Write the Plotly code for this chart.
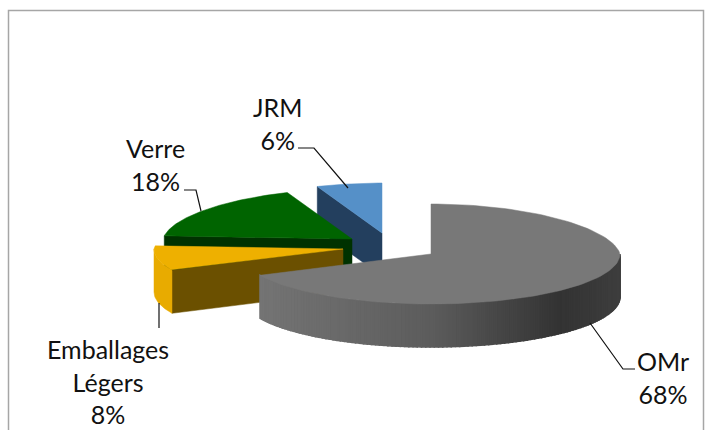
import math
import plotly.graph_objects as go

labels = ["OMr", "Emballages<br>Légers", "Verre", "JRM"]
values = [68, 8, 18, 6]
top_colors = ["#787878", "#eeb000", "#006400", "#5590c8"]
cut_colors = ["#6a6a6a", "#6b5000", "#003200", "#233f5e"]
wall_colors = ["#555555", "#e8ab00", "#004a00", "#2f5578"]

# Geometry of the tilted pie (pixels in the 714x430 frame)
RX, RY, DEPTH = 189.0, 50.0, 43.0
APEX = {"OMr": (431, 254), "Emballages<br>Légers": (343, 249), "Verre": (352, 239), "JRM": (382, 233)}
PERSP = 0.0015


def rim(cx, cy, deg):
    a = math.radians(deg)
    dy = -RY * math.cos(a)
    k = 1 + PERSP * min(dy, 0)
    return cx + RX * math.sin(a) * k, cy + dy


def arc(cx, cy, a0, a1, n=60):
    pts = [rim(cx, cy, a0 + (a1 - a0) * i / n) for i in range(n + 1)]
    return [p[0] for p in pts], [p[1] for p in pts]


def poly(fig, xs, ys, color, lw=0.5):
    fig.add_trace(go.Scatter(
        x=list(xs) + [xs[0]], y=list(ys) + [ys[0]], mode="lines", fill="toself",
        fillcolor=color, line=dict(color=color, width=lw), hoverinfo="skip", showlegend=False))


def omr_wall_color(x):
    stops = [(261, 0x74), (431, 0x5c), (560, 0x33), (620, 0x3e)]
    for (x0, v0), (x1, v1) in zip(stops, stops[1:]):
        if x <= x1:
            v = v0 + (v1 - v0) * (x - x0) / (x1 - x0)
            v = int(round(v))
            return f"rgb({v},{v},{v})"
    return "rgb(62,62,62)"


total = sum(values)
spans = []
start = 0.0
for v in values:
    spans.append((start, start + 360.0 * v / total))
    start += 360.0 * v / total

fig = go.Figure()
order = [3, 2, 1, 0]  # back to front
for i in order:
    name = labels[i]
    cx, cy = APEX[name]
    a0, a1 = spans[i]
    if i == 0:
        # outer wall: vertical shaded strips, only the front-facing part of the rim
        steps = 120
        lo, hi = 90.0, a1
        for s in range(steps):
            b0 = lo + (hi - lo) * s / steps
            b1 = lo + (hi - lo) * (s + 1) / steps
            x0, y0 = rim(cx, cy, b0)
            x1, y1 = rim(cx, cy, b1)
            poly(fig, [x0, x1, x1, x0], [y0, y1, y1 + DEPTH, y0 + DEPTH], omr_wall_color((x0 + x1) / 2), lw=1.5)
    else:
        # cut face at the clockwise start of the slice, facing the viewer
        ox, oy = rim(cx, cy, a0)
        poly(fig, [cx, ox, ox, cx], [cy, oy, oy + DEPTH, cy + DEPTH], cut_colors[i])
        # outer wall visible on the left side of the slice
        if a0 < 270:
            ax, ay = arc(cx, cy, a0, min(a1, 270.0), 20)
            poly(fig, ax + [x for x in reversed(ax)], ay + [y + DEPTH for y in reversed(ay)], wall_colors[i])
    ax, ay = arc(cx, cy, a0, a1, 120)
    poly(fig, [cx] + ax, [cy] + ay, top_colors[i])

# Data labels
label_pos = {
    "OMr": (663, 377), "Emballages<br>Légers": (108, 381), "Verre": (155, 164), "JRM": (277, 123),
}
for name, v in zip(labels, values):
    x, y = label_pos[name]
    fig.add_annotation(x=x, y=y, text=f"{name}<br>{v}%", showarrow=False, xanchor="center", yanchor="middle",
                       font=dict(family="Lato, Carlito, Open Sans, sans-serif", size=25, color="#111111"),
                       align="center")

# Leader lines
leaders = [
    [(298, 148), (314, 148), (348, 188)],
    [(184, 190), (196, 190), (201, 211)],
    [(159, 303), (159, 328)],
    [(590, 323), (623, 369), (635, 369)],
]
shapes = []
for pts in leaders:
    path = "M " + " L ".join(f"{x},{y}" for x, y in pts)
    shapes.append(dict(type="path", path=path, line=dict(color="#111111", width=1.2), xref="x", yref="y"))
# Chart frame
shapes.append(dict(type="rect", x0=8.5, y0=10.5, x1=703.5, y1=440, line=dict(color="#a6a6a6", width=1.5),
                   xref="x", yref="y", layer="below"))

fig.update_layout(
    width=714, height=430, margin=dict(l=0, r=0, t=0, b=0), paper_bgcolor="white", plot_bgcolor="white",
    xaxis=dict(range=[0, 714], visible=False, fixedrange=True),
    yaxis=dict(range=[430, 0], visible=False, fixedrange=True),
    shapes=shapes, showlegend=False,
)
fig.write_html("out.html", config={"displayModeBar": False},
               post_script="document.body.style.margin='0';document.body.style.overflow='hidden';")
